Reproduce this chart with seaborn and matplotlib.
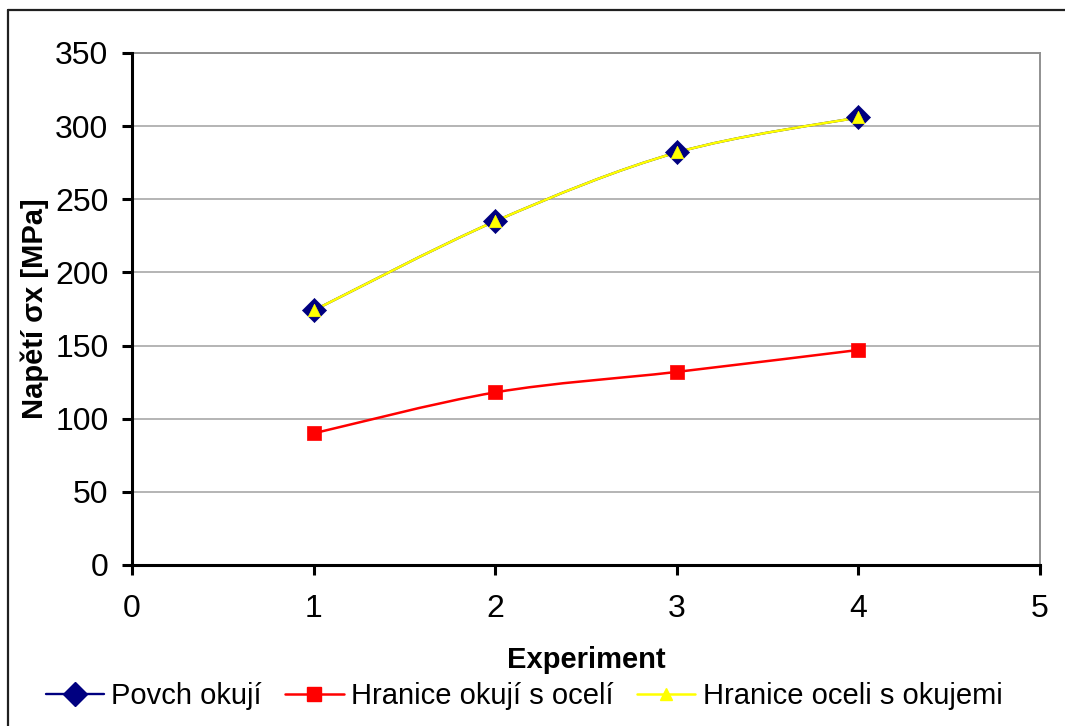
import numpy as np
import pandas as pd
import matplotlib
matplotlib.use("Agg")
import matplotlib.pyplot as plt
import seaborn as sns
from matplotlib.path import Path
from matplotlib.patches import PathPatch
from matplotlib.lines import Line2D

# Measured stress values per experiment
experiment = [1, 2, 3, 4]
povrch_okuji = [174, 235, 282, 306]
hranice_okuji_s_oceli = [90, 118, 132, 147]
hranice_oceli_s_okujemi = [174, 235, 282, 306]

series_names = ["Povch okují", "Hranice okují s ocelí", "Hranice oceli s okujemi"]
x_ticks = [0, 1, 2, 3, 4, 5]
y_ticks = [0, 50, 100, 150, 200, 250, 300, 350]
x_label = "Experiment"
y_label = "Napětí σx [MPa]"

df = pd.DataFrame({
    "Experiment": experiment * 3,
    "Napeti": povrch_okuji + hranice_okuji_s_oceli + hranice_oceli_s_okujemi,
    "Serie": [series_names[0]] * 4 + [series_names[1]] * 4 + [series_names[2]] * 4,
})

sns.set_theme(style="white")
plt.rcParams["font.family"] = ["Liberation Sans", "DejaVu Sans"]
plt.rcParams["text.color"] = "black"
plt.rcParams["axes.labelcolor"] = "black"

W, H = 1065, 726
fig = plt.figure(figsize=(W / 100, H / 100), dpi=100)
ax = fig.add_axes([132 / W, 1 - 565 / H, (1040 - 132) / W, (565 - 53) / H])

styles = {
    series_names[0]: dict(color="#000080", marker="D", s=150, lw=1.7, edge="#000080"),
    series_names[1]: dict(color="#FF0000", marker="s", s=95, lw=1.8, edge="#FF0000"),
    series_names[2]: dict(color="#FFFF00", marker="^", s=80, lw=1.8, edge="#FFFF00"),
}


def smooth_path(xs, ys):
    """Piecewise cubic Bezier through the points (spreadsheet-style smoothed line)."""
    pts = np.column_stack([xs, ys]).astype(float)
    n = len(pts)
    verts = [pts[0]]
    codes = [Path.MOVETO]
    for i in range(n - 1):
        p_prev = pts[max(i - 1, 0)]
        p0 = pts[i]
        p1 = pts[i + 1]
        p_next = pts[min(i + 2, n - 1)]
        c1 = p0 + (p1 - p_prev) / 6.0
        c2 = p1 - (p_next - p0) / 6.0
        verts += [c1, c2, p1]
        codes += [Path.CURVE4] * 3
    return Path(verts, codes)


# Smoothed connecting lines
for z, name in enumerate(series_names):
    sub = df[df["Serie"] == name]
    st = styles[name]
    patch = PathPatch(smooth_path(sub["Experiment"], sub["Napeti"]), facecolor="none",
                      edgecolor=st["color"], lw=st["lw"], zorder=3 + z * 0.1)
    ax.add_patch(patch)

# Markers
for z, name in enumerate(series_names):
    sub = df[df["Serie"] == name]
    st = styles[name]
    sns.scatterplot(data=sub, x="Experiment", y="Napeti", marker=st["marker"], s=st["s"],
                    color=st["color"], edgecolor=st["edge"], linewidth=0.5, ax=ax,
                    zorder=5 + z, legend=False)

ax.set_xlim(0, 5)
ax.set_ylim(0, 350)
ax.set_xticks(x_ticks)
ax.set_yticks(y_ticks)
ax.set_xticklabels([str(v) for v in x_ticks])
ax.set_yticklabels([str(v) for v in y_ticks])
ax.yaxis.grid(True, color="#A0A0A0", lw=1.1)
ax.xaxis.grid(False)
ax.set_axisbelow(True)

for side in ["top", "right"]:
    ax.spines[side].set_visible(True)
    ax.spines[side].set_color("#909090")
    ax.spines[side].set_linewidth(1.4)
for side in ["left", "bottom"]:
    ax.spines[side].set_color("black")
    ax.spines[side].set_linewidth(2.2)
    ax.spines[side].set_zorder(10)

ax.tick_params(axis="both", direction="out", length=7, width=2.2, color="black",
               labelsize=23, labelcolor="black", left=True, bottom=True)
ax.tick_params(axis="x", pad=14)
ax.tick_params(axis="y", pad=10)

ax.set_xlabel(x_label, fontsize=21, fontweight="bold", labelpad=16, color="black")
ax.set_ylabel(y_label, fontsize=21, fontweight="bold", labelpad=4, color="black")

# Legend along the bottom
handles = []
for name in series_names:
    st = styles[name]
    handles.append(Line2D([0], [0], color=st["color"], lw=st["lw"], marker=st["marker"],
                          markersize=np.sqrt(st["s"]), markerfacecolor=st["color"],
                          markeredgecolor=st["edge"]))
leg = fig.legend(handles, series_names, loc="center", bbox_to_anchor=(0.492, 1 - 696 / H),
                 ncol=3, frameon=False, fontsize=21, handlelength=2.0, handletextpad=0.25,
                 columnspacing=0.8, borderaxespad=0)
for t in leg.get_texts():
    t.set_color("black")

# Chart frame
fig.add_artist(Line2D([8 / W, 8 / W], [-0.01, 1 - 10 / H], transform=fig.transFigure,
                      color="#202020", lw=1.6))
fig.add_artist(Line2D([8 / W, 1.01], [1 - 10 / H, 1 - 10 / H], transform=fig.transFigure,
                      color="#202020", lw=1.6))

fig.savefig("out.png", dpi=100, facecolor="white")
